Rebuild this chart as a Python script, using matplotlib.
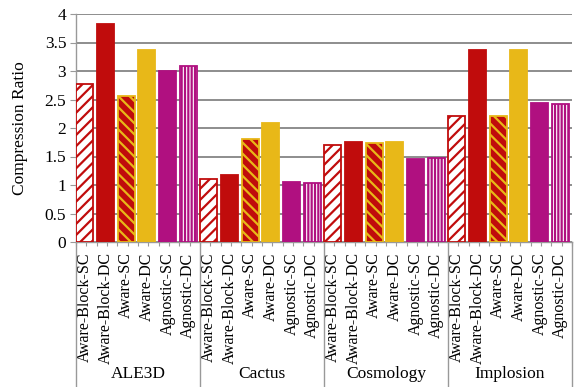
import numpy as np
import matplotlib
matplotlib.use("Agg")
import matplotlib.pyplot as plt
from matplotlib.transforms import blended_transform_factory

plt.rcParams["font.family"] = ["Liberation Serif", "DejaVu Serif"]
plt.rcParams["hatch.linewidth"] = 1.6

groups = ["ALE3D", "Cactus", "Cosmology", "Implosion"]
methods = ["Aware-Block-SC", "Aware-Block-DC", "Aware-SC", "Aware-DC",
           "Agnostic-SC", "Agnostic-DC"]

# compression ratio per method, one list per dataset
ale3d = [2.78, 3.82, 2.57, 3.37, 3.00, 3.08]
cactus = [1.10, 1.17, 1.81, 2.08, 1.05, 1.04]
cosmology = [1.70, 1.76, 1.73, 1.76, 1.46, 1.48]
implosion = [2.21, 3.37, 2.21, 3.37, 2.44, 2.42]
values = [ale3d, cactus, cosmology, implosion]

yticks = [0, 0.5, 1, 1.5, 2, 2.5, 3, 3.5, 4]
ytick_labels = ["0", "0.5", "1", "1.5", "2", "2.5", "3", "3.5", "4"]

RED = "#c00c0c"
YEL = "#e8b818"
MAG = "#b01080"
styles = [
    dict(facecolor="white", edgecolor=RED, hatch="///"),
    dict(facecolor=RED, edgecolor=RED, hatch=None),
    dict(facecolor=RED, edgecolor=YEL, hatch="\\\\\\"),
    dict(facecolor=YEL, edgecolor=YEL, hatch=None),
    dict(facecolor=MAG, edgecolor=MAG, hatch=None),
    dict(facecolor="white", edgecolor=MAG, hatch="|||||"),
]

fig = plt.figure(figsize=(5.76, 3.87), dpi=100)
ax = fig.add_axes([76 / 576, 1 - 242 / 387, 496 / 576, 228 / 387])

n = len(methods)
width = 0.82
centers = []
labels = []
for g, vals in enumerate(values):
    for j, v in enumerate(vals):
        left = g * n + j + 0.02
        st = styles[j]
        ax.bar(left, v, width=width, align="edge", facecolor=st["facecolor"],
               edgecolor=st["edgecolor"], hatch=st["hatch"], linewidth=1.3,
               zorder=3)
        centers.append(left + width / 2)
        labels.append(methods[j])

ax.set_xlim(0, n * len(groups))
ax.set_ylim(0, 4)
ax.set_yticks(yticks)
ax.set_yticklabels(ytick_labels, fontsize=12.5)
ax.yaxis.grid(True, color="#858585", linewidth=1.3, zorder=0)
ax.set_axisbelow(True)

ax.set_xticks(centers)
ax.set_xticklabels(labels, rotation=90, fontsize=11.5, va="top")
ax.tick_params(axis="x", which="major", length=0, pad=7.5)
ax.set_xticks(np.arange(0, n * len(groups) + 0.01, 0.5), minor=True)
ax.tick_params(axis="x", which="minor", length=3, color="#999999", width=0.8)
ax.tick_params(axis="y", length=4, color="#999999", width=0.8, pad=3)

for s in ["top", "right"]:
    ax.spines[s].set_visible(False)
for s in ["left", "bottom"]:
    ax.spines[s].set_color("#999999")
    ax.spines[s].set_linewidth(1.0)

ax.set_ylabel("Compression Ratio", fontsize=12.5)
ax.yaxis.set_label_coords(-0.097, 0.5)

# group separators and dataset names under the method labels
trans = blended_transform_factory(ax.transData, ax.transAxes)
for g in range(len(groups) + 1):
    ax.plot([g * n, g * n], [0, -0.64], transform=trans, color="#999999",
            linewidth=1.0, clip_on=False)
for g, name in enumerate(groups):
    ax.text(g * n + n / 2, -0.579, name, transform=trans, ha="center",
            va="center", fontsize=12.5)

fig.savefig("out.png", dpi=100)
